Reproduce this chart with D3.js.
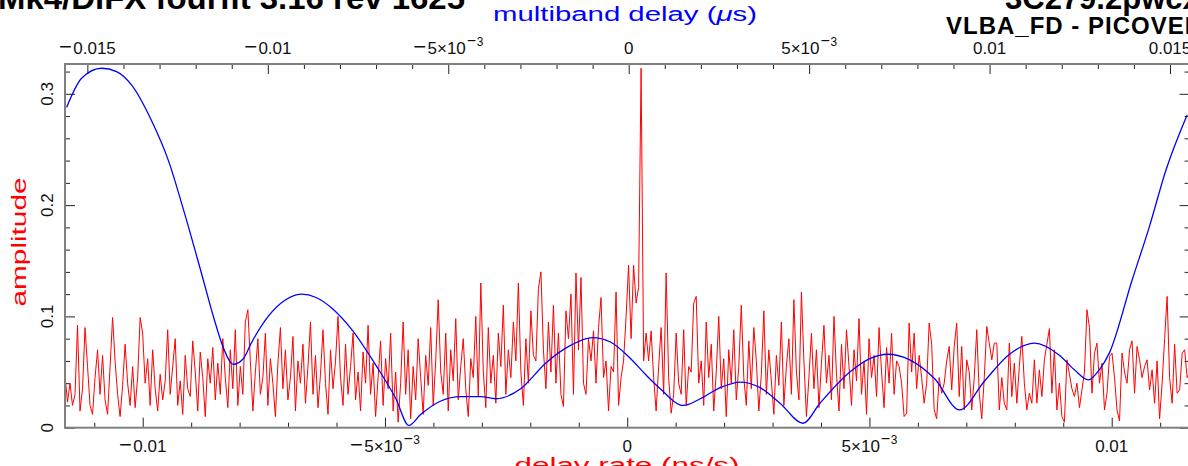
<!DOCTYPE html>
<html><head><meta charset="utf-8">
<script src="https://cdn.jsdelivr.net/npm/d3@7"></script>
<style>html,body{margin:0;padding:0;background:#fff;overflow:hidden}</style>
</head><body><svg id="c" width="1188" height="466"></svg>
<script>
// ---- data ----
const rateDomain = [-0.011604, 0.011608];   // delay rate (ns/s), bottom axis
const mbdDomain = [-0.01562, 0.015543];     // multiband delay (us), top axis
const ampDomain = [0, 0.3268];
const bottomTicks = [-0.01, -0.005, 0, 0.005, 0.01];
const bottomTickLabels = ["−0.01", "−5×10|−3", "0", "5×10|−3", "0.01"];
const topTicks = [-0.015, -0.01, -0.005, 0, 0.005, 0.01, 0.015];
const topTickLabels = ["−0.015", "−0.01", "−5×10|−3", "0", "5×10|−3", "0.01", "0.015"];
const yTicks = [0, 0.1, 0.2, 0.3];
const yTickLabels = ["0", "0.1", "0.2", "0.3"];
const bottomMinor = [-0.011,-0.009,-0.008,-0.007,-0.006,-0.004,-0.003,-0.002,-0.001,0.001,0.002,0.003,0.004,0.006,0.007,0.008,0.009,0.011];
const topMinor = [-0.014,-0.013,-0.012,-0.011,-0.009,-0.008,-0.007,-0.006,-0.004,-0.003,-0.002,-0.001,0.001,0.002,0.003,0.004,0.006,0.007,0.008,0.009,0.011,0.012,0.013,0.014];
const yMinor = [0.02,0.04,0.06,0.08,0.12,0.14,0.16,0.18,0.22,0.24,0.26,0.28,0.32];

// multiband delay amplitude (blue), x in us
const blueMbd = [-0.015574,-0.015160,-0.014606,-0.014191,-0.013777,-0.013224,-0.012754,-0.012311,-0.011841,-0.011482,-0.011233,-0.010957,-0.010680,-0.010459,-0.009989,-0.009547,-0.009077,-0.008662,-0.008247,-0.007694,-0.007003,-0.006450,-0.006091,-0.005759,-0.005206,-0.004653,-0.004100,-0.003685,-0.002994,-0.002303,-0.001612,-0.001004,-0.000506,-0.000008,0.000462,0.000876,0.001512,0.001982,0.002535,0.003088,0.003641,0.004194,0.004830,0.005300,0.006129,0.006682,0.007180,0.007788,0.008479,0.009170,0.009861,0.010553,0.011244,0.011935,0.012350,0.012737,0.013041,0.013317,0.013953,0.014423,0.014893,0.015474];
const blueAmp = [0.288,0.314,0.323,0.320,0.308,0.276,0.240,0.193,0.139,0.097,0.072,0.057,0.062,0.076,0.100,0.114,0.120,0.117,0.108,0.089,0.056,0.026,0.002,0.012,0.024,0.028,0.028,0.026,0.035,0.058,0.074,0.081,0.077,0.064,0.048,0.035,0.020,0.026,0.036,0.041,0.036,0.022,0.004,0.022,0.050,0.062,0.066,0.061,0.044,0.016,0.042,0.066,0.076,0.065,0.052,0.043,0.052,0.067,0.133,0.180,0.232,0.281];

// delay-rate amplitude (red), uniform rate bins
const redRateStart = -0.011604;
const redRateStep = 0.00005170;
const redAmp = [
.047,.023,.040,.020,.030,.092,.015,.035,.090,.055,
.020,.012,.045,.070,.030,.065,.025,.012,.055,.099,
.060,.030,.010,.038,.075,.040,.020,.055,.018,.045,
.099,.085,.040,.062,.020,.070,.035,.015,.048,.025,
.042,.088,.030,.055,.080,.020,.042,.012,.065,.035,
.028,.078,.050,.015,.068,.045,.010,.062,.040,.072,
.025,.058,.030,.080,.045,.018,.070,.035,.088,.020,
.055,.030,.095,.106,.060,.015,.050,.080,.030,.045,
.085,.020,.062,.040,.010,.058,.090,.035,.070,.025,
.045,.082,.015,.060,.040,.075,.022,.055,.095,.030,
.065,.018,.048,.088,.040,.012,.070,.035,.060,.100,
.045,.020,.075,.030,.055,.085,.025,.050,.015,.068,
.040,.092,.030,.058,.010,.045,.078,.020,.062,.035,
.085,.015,.050,.005,.040,.095,.030,.070,.008,.055,
.025,.080,.045,.012,.065,.038,.090,.020,.060,.115,
.050,.030,.085,.015,.070,.042,.098,.025,.055,.080,
.035,.010,.062,.045,.100,.028,.130,.050,.018,.090,
.040,.065,.022,.085,.055,.110,.030,.070,.045,.095,
.060,.130,.050,.020,.080,.040,.105,.065,.060,.125,
.140,.070,.035,.095,.050,.110,.040,.085,.030,.019,
.105,.080,.120,.030,.139,.070,.135,.040,.030,.080,
.060,.087,.040,.090,.117,.045,.060,.015,.055,.050,
.122,.020,.045,.060,.100,.146,.080,.146,.112,.126,
.323,.060,.085,.060,.087,.045,.015,.055,.090,.030,
.139,.045,.013,.030,.085,.040,.030,.088,.020,.055,
.050,.112,.118,.040,
.060,.020,.095,.045,.075,.015,.050,.100,.035,.062,
.010,.070,.040,.088,.025,.055,.110,.045,.020,.078,
.035,.090,.060,.015,.048,.105,.030,.070,.042,.012,
.065,.038,.095,.020,.055,.080,.030,.115,.050,.025,
.122,.060,.010,.045,.085,.035,.070,.018,.058,.092,
.040,.065,.025,.100,.048,.015,.075,.035,.088,.055,
.020,.070,.042,.098,.030,.060,.012,.080,.045,.065,
.028,.090,.050,.018,.072,.040,.085,.030,.060,.055,
.040,.010,.013,.094,.050,.085,.035,.065,.045,.022,
.040,.094,.075,.016,.008,.045,.031,.040,.060,.073,
.034,.073,.094,.028,.073,.016,.061,.050,.016,.045,
.088,.031,.008,.045,.091,.076,.061,.076,.076,.016,
.045,.022,.016,.076,.028,.058,.022,.055,.082,.040,
.016,.031,.022,.061,.022,.052,.028,.061,.075,.089,
.031,.070,.016,.040,.010,.005,.061,.048,.035,.028,
.040,.018,.034,.050,.106,.090,.031,.067,.076,.040,
.058,.016,.031,.064,.067,.045,.016,.006,.067,.050,
.040,.070,.078,.031,.073,.061,.045,.055,.061,.034,
.052,.022,.060,.008,.040,.080,.118,.045,.022,.075,
.031,.034,.067,.070,.045,.050];

// ---- drawing ----
const L = 65, R = 1189.6, T = 64, B = 427.7;
const svg = d3.select("#c");
const xRate = d3.scaleLinear().domain(rateDomain).range([L, R]);
const xMbd = d3.scaleLinear().domain(mbdDomain).range([L, R]);
const y = d3.scaleLinear().domain(ampDomain).range([B, T]);
const FONT = "'Liberation Sans', Arial, sans-serif";
const tickColor = "#222";

svg.append("defs").append("clipPath").attr("id", "clip")
  .append("rect").attr("x", L).attr("y", T - 4).attr("width", R - L).attr("height", B - T + 4);

function axisG(gen, tr) {
  const g = svg.append("g").attr("transform", tr).call(gen);
  g.select(".domain").remove();
  g.selectAll("text").remove();
  g.selectAll("line").attr("stroke", tickColor).attr("stroke-width", 1);
  return g;
}
// major and minor ticks, drawn inward
axisG(d3.axisBottom(xRate).tickValues(bottomTicks).tickSizeInner(-10).tickSizeOuter(0), `translate(0,${B})`);
axisG(d3.axisBottom(xRate).tickValues(bottomMinor).tickSizeInner(-5).tickSizeOuter(0), `translate(0,${B})`);
axisG(d3.axisTop(xMbd).tickValues(topTicks).tickSizeInner(-10).tickSizeOuter(0), `translate(0,${T})`);
axisG(d3.axisTop(xMbd).tickValues(topMinor).tickSizeInner(-5).tickSizeOuter(0), `translate(0,${T})`);
axisG(d3.axisLeft(y).tickValues(yTicks).tickSizeInner(-10).tickSizeOuter(0), `translate(${L},0)`);
axisG(d3.axisLeft(y).tickValues(yMinor).tickSizeInner(-5).tickSizeOuter(0), `translate(${L},0)`);
axisG(d3.axisRight(y).tickValues(yTicks).tickSizeInner(-10).tickSizeOuter(0), `translate(${R},0)`);
axisG(d3.axisRight(y).tickValues(yMinor).tickSizeInner(-5).tickSizeOuter(0), `translate(${R},0)`);

// data lines
const plot = svg.append("g").attr("clip-path", "url(#clip)");
plot.append("path").datum(redAmp)
  .attr("fill", "none").attr("stroke", "#ff0000").attr("stroke-width", 1)
  .attr("d", d3.line().x((d, i) => xRate(redRateStart + i * redRateStep)).y(d => y(d)));
plot.append("path").datum(blueMbd.map((m, i) => [m, blueAmp[i]]))
  .attr("fill", "none").attr("stroke", "#0000ff").attr("stroke-width", 1.3)
  .attr("d", d3.line().x(d => xMbd(d[0])).y(d => y(d[1])).curve(d3.curveMonotoneX));

// frame
svg.append("rect").attr("x", L).attr("y", T).attr("width", R - L).attr("height", B - T)
  .attr("fill", "none").attr("stroke", "#808080").attr("stroke-width", 2);

// tick labels
const FS = 17;
function addMinusAware(t, s, fs) {
  if (s.startsWith("−")) {
    t.append("tspan").attr("font-size", fs * 1.3).text("−");
    t.append("tspan").attr("dx", fs * 0.08).attr("font-size", fs).text(s.slice(1));
  } else {
    t.append("tspan").attr("font-size", fs).text(s);
  }
}
function label(g, str) {
  const parts = str.split("|");
  const t = g.append("text").attr("text-anchor", "middle").attr("font-family", FONT)
    .attr("fill", "#111");
  addMinusAware(t, parts[0], FS);
  if (parts[1]) {
    const sfs = FS * 0.7;
    const first = parts[1].startsWith("−");
    t.append("tspan").attr("dy", -8).attr("dx", 1).attr("font-size", first ? sfs * 1.35 : sfs).text(first ? "−" : parts[1]);
    if (first) t.append("tspan").attr("dx", 0.5).attr("font-size", sfs).text(parts[1].slice(1));
  }
  return t;
}
bottomTicks.forEach((v, i) => {
  label(svg.append("g").attr("transform", `translate(${xRate(v)},452)`), bottomTickLabels[i]);
});
topTicks.forEach((v, i) => {
  label(svg.append("g").attr("transform", `translate(${xMbd(v)},53.5)`), topTickLabels[i]);
});
yTicks.forEach((v, i) => {
  label(svg.append("g").attr("transform", `translate(53,${y(v)}) rotate(-90)`), yTickLabels[i]);
});

// axis titles
const mt = svg.append("text").attr("x", 625).attr("y", 21).attr("text-anchor", "middle")
  .attr("font-family", FONT).attr("font-size", 20).attr("fill", "#0000ff")
  .attr("textLength", 264).attr("lengthAdjust", "spacingAndGlyphs");
mt.append("tspan").text("multiband delay (");
mt.append("tspan").attr("font-style", "italic").text("μ");
mt.append("tspan").text("s)");

svg.append("text").attr("x", 627).attr("y", 472).attr("text-anchor", "middle")
  .attr("font-family", FONT).attr("font-size", 20).attr("fill", "#ff0000")
  .attr("textLength", 225).attr("lengthAdjust", "spacingAndGlyphs")
  .text("delay rate (ns/s)");

svg.append("text").attr("transform", "translate(26,242) rotate(-90)").attr("text-anchor", "middle")
  .attr("font-family", FONT).attr("font-size", 20).attr("fill", "#ff0000")
  .attr("textLength", 129).attr("lengthAdjust", "spacingAndGlyphs")
  .text("amplitude");

// headers
svg.append("text").attr("x", -2).attr("y", 9).attr("font-family", FONT).attr("font-weight", "bold")
  .attr("font-size", 31).attr("fill", "#000").attr("textLength", 467).attr("lengthAdjust", "spacingAndGlyphs")
  .text("Mk4/DiFX fourfit 3.16 rev 1625");
svg.append("text").attr("x", 1005).attr("y", 9).attr("font-family", FONT).attr("font-weight", "bold")
  .attr("font-size", 31).attr("fill", "#000")
  .text("3C279.2pwcxt, No0000");
svg.append("text").attr("x", 946).attr("y", 34).attr("font-family", FONT).attr("font-weight", "bold")
  .attr("font-size", 24).attr("letter-spacing", 1).attr("fill", "#000")
  .text("VLBA_FD - PICOVER, fgroup X, pol RR");
</script></body></html>
